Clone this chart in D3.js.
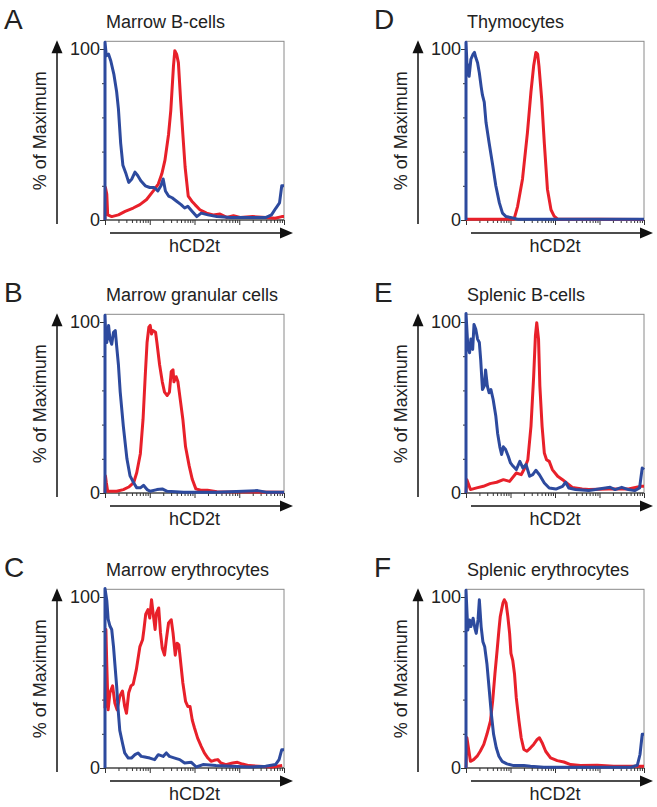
<!DOCTYPE html>
<html><head><meta charset="utf-8">
<script src="https://cdn.jsdelivr.net/npm/d3@7"></script>
<style>
html,body{margin:0;padding:0;background:#fff;}
svg{display:block;}
text{font-family:"Liberation Sans",Arial,Helvetica,sans-serif;fill:#222;}
</style></head>
<body><svg id="chart" width="657" height="807"></svg>
<script>
// x values are log10(hCD2t intensity), y values are % of Maximum
const panelLetters = ["A","B","C","D","E","F"];
const panelTitles = ["Marrow B-cells","Marrow granular cells","Marrow erythrocytes","Thymocytes","Splenic B-cells","Splenic erythrocytes"];
const yTickValues = [0,20,40,60,80,100];
const yTickLabels = {0:"0",100:"100"};
const xAxisLabel = "hCD2t";
const yAxisLabel = "% of Maximum";

const blueA = [[1.0,0],[1.0,104],[1.03,96],[1.08,97],[1.13,93],[1.2,85],[1.26,75],[1.3,65],[1.35,45],[1.4,32],[1.47,27],[1.53,22],[1.6,24],[1.67,28],[1.73,26],[1.8,23],[1.9,20],[2.0,19],[2.1,19],[2.18,17],[2.25,20],[2.3,24],[2.35,17],[2.42,14],[2.5,13],[2.6,11],[2.7,9],[2.78,7],[2.85,8],[2.95,5],[3.05,2],[3.15,4],[3.3,3],[3.5,2],[3.8,1.5],[4.1,1.5],[4.4,1.5],[4.6,1.5],[4.72,3],[4.82,7],[4.9,10],[4.95,20],[5.0,20]];
const redA = [[1.0,0],[1.01,19],[1.04,15],[1.06,3],[1.15,2],[1.3,3],[1.45,5],[1.63,7],[1.78,9],[1.93,12],[2.08,17],[2.19,21],[2.27,27],[2.34,35],[2.42,50],[2.47,64],[2.53,90],[2.56,99],[2.6,97],[2.64,92],[2.69,70],[2.74,50],[2.79,31],[2.86,14],[2.94,11],[3.01,9],[3.12,6],[3.27,4],[3.42,3],[3.57,3.5],[3.72,1.5],[3.87,2.5],[4.02,1.5],[4.3,2],[4.6,1.5],[4.8,1],[4.95,2],[5.0,2]];

const blueB = [[1.0,0],[1.0,104],[1.02,90],[1.04,88],[1.08,98],[1.11,90],[1.15,87],[1.19,94],[1.23,95],[1.26,86],[1.3,75],[1.34,59],[1.41,39],[1.49,20],[1.56,10],[1.64,6],[1.71,3],[1.79,3],[1.86,4.5],[1.94,2],[2.01,1],[2.16,2],[2.28,2.4],[2.39,1],[2.76,0.5],[3.5,0.5],[4.41,1.4],[4.6,0.5],[5.0,0.5]];
const redB = [[1.0,0],[1.01,10],[1.03,6],[1.06,1],[1.26,1],[1.41,2],[1.53,3.5],[1.64,6],[1.71,12],[1.79,23],[1.85,43],[1.9,69],[1.94,88],[1.98,97],[2.01,98],[2.04,93],[2.07,95],[2.13,94],[2.16,88],[2.22,75],[2.28,65],[2.33,59],[2.39,57],[2.44,59],[2.48,71],[2.52,72],[2.54,65],[2.59,68],[2.63,65],[2.69,53],[2.74,43],[2.8,27],[2.88,16],[2.95,8],[3.03,2.4],[3.14,1.6],[3.29,1.6],[3.5,0.8],[5.0,0.5]];

const blueC = [[1.0,0],[1.0,105],[1.04,98],[1.07,87],[1.11,83],[1.15,81],[1.19,71],[1.22,61],[1.26,48],[1.3,32],[1.33,22],[1.39,14.6],[1.44,8.8],[1.52,5.8],[1.59,5.8],[1.67,7.8],[1.74,8.8],[1.81,6.8],[1.89,6.4],[2.0,5.8],[2.11,4.9],[2.19,7.8],[2.3,6.8],[2.37,8.8],[2.44,6.8],[2.56,5.8],[2.67,4.9],[2.78,2.9],[2.93,3.3],[3.04,0.6],[3.19,2],[3.48,1.4],[3.85,1],[4.22,0.6],[4.59,1],[4.81,2],[4.89,4.9],[4.95,10.7],[5.0,10.7]];
const redC = [[1.0,35],[1.02,81],[1.04,60],[1.07,34],[1.11,44],[1.17,48],[1.22,38],[1.27,34],[1.33,42],[1.39,45],[1.44,36],[1.48,32],[1.53,44],[1.58,48],[1.63,49],[1.7,57.5],[1.78,71],[1.84,75],[1.87,81],[1.91,90],[1.96,92.6],[2.0,87.7],[2.04,98.4],[2.07,91.6],[2.12,81],[2.15,90.6],[2.2,93.6],[2.24,79],[2.28,70],[2.33,66],[2.37,75],[2.42,84.8],[2.48,86.7],[2.52,79],[2.57,66],[2.61,73],[2.65,72],[2.7,59.5],[2.74,49.7],[2.8,39],[2.85,36],[2.9,36],[2.95,28],[3.0,23.4],[3.07,17.5],[3.15,12.7],[3.22,8.8],[3.3,5.8],[3.37,3.9],[3.44,4.5],[3.52,4.9],[3.59,2.9],[3.7,1.9],[3.85,2.9],[3.96,3.3],[4.07,2.3],[4.22,1.4],[4.44,1],[4.74,0.6],[4.96,1.4]];

const blueD = [[1.0,0],[1.0,104],[1.02,92],[1.04,90],[1.07,84],[1.11,94],[1.16,97],[1.19,98],[1.22,95],[1.26,92],[1.3,86],[1.34,78],[1.37,73],[1.41,69],[1.45,57],[1.52,45],[1.6,32],[1.67,20],[1.75,10],[1.82,4],[1.9,2],[2.0,1.5],[2.16,0.5],[3.0,0.5],[4.0,0.5],[5.0,0.5]];
const redD = [[1.0,0.5],[1.5,0.5],[2.08,0.5],[2.16,8],[2.27,24],[2.38,51],[2.46,75],[2.52,90],[2.57,98],[2.61,97],[2.64,90],[2.7,71],[2.76,45],[2.83,18],[2.91,6],[2.98,2.3],[3.06,0.5],[4.0,0.5],[5.0,0.3]];

const blueE = [[1.0,0],[1.0,105],[1.04,86],[1.08,82],[1.11,90],[1.15,84],[1.18,98.6],[1.22,95.7],[1.26,90],[1.3,88],[1.33,78],[1.37,60.5],[1.41,62.5],[1.44,72],[1.48,62.5],[1.52,58.6],[1.56,60.5],[1.61,54.7],[1.67,45],[1.71,35],[1.76,27],[1.8,22.5],[1.84,27],[1.89,25.4],[1.95,21.5],[2.0,17.6],[2.06,15.6],[2.13,13.7],[2.21,18.5],[2.28,14.6],[2.35,16.6],[2.43,9.8],[2.5,10.7],[2.57,13.3],[2.65,10.7],[2.76,5.9],[2.87,2.9],[3.02,2.3],[3.17,3.9],[3.24,6.3],[3.31,2.9],[3.46,2],[3.76,1.4],[3.91,2],[4.13,2.9],[4.24,3.3],[4.35,2],[4.5,3.3],[4.65,2],[4.79,1.4],[4.9,2.9],[4.96,14.6],[5.0,13.7]];
const redE = [[1.0,0],[1.02,7.8],[1.1,2],[1.24,3],[1.39,3.9],[1.54,5.5],[1.69,6.3],[1.84,7.8],[1.98,6.8],[2.13,11.7],[2.24,10.7],[2.32,14.6],[2.39,19.5],[2.46,39],[2.52,68],[2.56,92],[2.59,99.6],[2.63,90],[2.66,62.5],[2.71,39],[2.76,23.4],[2.81,19.5],[2.87,18.5],[2.94,13.7],[3.06,9.8],[3.17,7.8],[3.24,6.3],[3.39,3.3],[3.61,2.3],[3.76,2],[4.2,2.3],[4.65,2.3],[4.94,3.9],[5.0,3.9]];

const blueF = [[1.0,0],[1.0,104],[1.04,80.7],[1.08,86.6],[1.11,82.7],[1.16,87.6],[1.2,81.7],[1.23,78.7],[1.27,86.6],[1.3,98.4],[1.34,82.7],[1.38,73.8],[1.42,70.9],[1.47,61],[1.53,43.3],[1.57,31.5],[1.62,19.7],[1.68,11.8],[1.74,6.9],[1.81,3.9],[1.92,2.4],[2.07,1.4],[2.3,1.4],[2.45,1],[2.75,0.4],[3.5,0.4],[4.7,0.4],[4.85,1.6],[4.91,7.9],[4.96,19.7],[5.0,19.7]];
const redF = [[1.0,0],[1.02,17.7],[1.1,3.9],[1.17,4.9],[1.25,6.9],[1.32,9.8],[1.4,13.8],[1.47,19.7],[1.55,27.6],[1.6,39.4],[1.65,55],[1.7,69],[1.74,80.7],[1.77,88.6],[1.83,96.5],[1.86,98.4],[1.9,96.5],[1.94,88.6],[1.98,78.7],[2.01,67],[2.05,63],[2.09,55],[2.13,41],[2.19,27.6],[2.24,17.7],[2.3,10.8],[2.37,9.8],[2.45,11.8],[2.52,13.8],[2.6,16.7],[2.65,17.7],[2.71,14.8],[2.79,9.8],[2.9,5.9],[3.05,4.3],[3.2,3.5],[3.35,2],[3.57,1.4],[3.95,1.6],[4.32,1],[4.7,1],[5.0,1]];

const blueSeries = [blueA, blueB, blueC, blueD, blueE, blueF];
const redSeries = [redA, redB, redC, redD, redE, redF];

const colLeft = [105, 466];
const colWidth = [179, 178];
const rowBottom = [220, 493, 768];
const plotH = 171;
const BLUE = "#2d4a9e", RED = "#e8202a";

const svg = d3.select("#chart");

panelLetters.forEach((letter, i) => {
  const col = Math.floor(i / 3), row = i % 3;
  const L = colLeft[col], R = L + colWidth[col], B = rowBottom[row];
  const x = d3.scaleLog().domain([10, 1e5]).range([L, R]);
  const y = d3.scaleLinear().domain([0, 100]).range([B, B - plotH]);
  const T = y(104.5);
  const g = svg.append("g");

  // letter and title
  g.append("text").attr("x", col ? L - 92 : L - 101).attr("y", B - 191)
    .attr("font-size", 28).text(letter);
  g.append("text").attr("x", L + 1).attr("y", B - 192)
    .attr("font-size", 18).text(panelTitles[i]);

  // box
  g.append("rect").attr("x", L).attr("y", T).attr("width", R - L).attr("height", B - T)
    .attr("fill", "none").attr("stroke", "#8a8a8a").attr("stroke-width", 1);
  g.append("line").attr("x1", L).attr("x2", L).attr("y1", T).attr("y2", B).attr("stroke", "#222").attr("stroke-width", 1.2);
  g.append("line").attr("x1", L).attr("x2", R).attr("y1", B).attr("y2", B).attr("stroke", "#222").attr("stroke-width", 1.2);

  // y ticks
  const yAx = g.append("g").attr("transform", `translate(${L},0)`)
    .call(d3.axisLeft(y).tickValues(yTickValues).tickSize(3).tickPadding(2)
      .tickFormat(d => yTickLabels[d] || ""));
  yAx.select(".domain").remove();
  yAx.selectAll(".tick line").attr("stroke", "#333").attr("x2", d => (d % 100 === 0 ? -5 : -3));
  yAx.selectAll(".tick text").attr("font-size", 18).attr("fill", "#222")
    .attr("font-family", '"Liberation Sans",Arial,sans-serif').attr("x", -5);

  // x ticks (log)
  const xAx = g.append("g").attr("transform", `translate(0,${B})`)
    .call(d3.axisBottom(x).ticks(10).tickSize(3).tickFormat(""));
  xAx.select(".domain").remove();
  xAx.selectAll(".tick line").attr("stroke", "#333")
    .attr("y2", d => (Math.abs(Math.log10(d) - Math.round(Math.log10(d))) < 1e-6 ? 5 : 3));

  // curves
  const line = d3.line().x(d => x(Math.pow(10, d[0]))).y(d => y(d[1]));
  g.append("path").datum(redSeries[i]).attr("d", line).attr("fill", "none")
    .attr("stroke", RED).attr("stroke-width", 3).attr("stroke-linejoin", "round");
  g.append("path").datum(blueSeries[i]).attr("d", line).attr("fill", "none")
    .attr("stroke", BLUE).attr("stroke-width", 3).attr("stroke-linejoin", "round");

  // arrows
  const ax = L - 48;
  g.append("line").attr("x1", ax).attr("x2", ax).attr("y1", B + 4).attr("y2", T + 8)
    .attr("stroke", "#111").attr("stroke-width", 1.5);
  g.append("path").attr("d", `M${ax},${T - 1} L${ax - 5.5},${T + 12} L${ax + 5.5},${T + 12} Z`).attr("fill", "#111");
  const ay = B + 13, tipX = R + 9;
  g.append("line").attr("x1", L + 5).attr("x2", tipX - 8).attr("y1", ay).attr("y2", ay)
    .attr("stroke", "#111").attr("stroke-width", 1.5);
  g.append("path").attr("d", `M${tipX},${ay} L${tipX - 13},${ay - 5.5} L${tipX - 13},${ay + 5.5} Z`).attr("fill", "#111");

  // axis labels
  g.append("text").attr("x", (L + R) / 2).attr("y", B + 32).attr("text-anchor", "middle")
    .attr("font-size", 18).text(xAxisLabel);
  g.append("text").attr("transform", `translate(${L - 59},${(T + B) / 2}) rotate(-90)`)
    .attr("text-anchor", "middle").attr("font-size", 18).text(yAxisLabel);
});
</script></body></html>
